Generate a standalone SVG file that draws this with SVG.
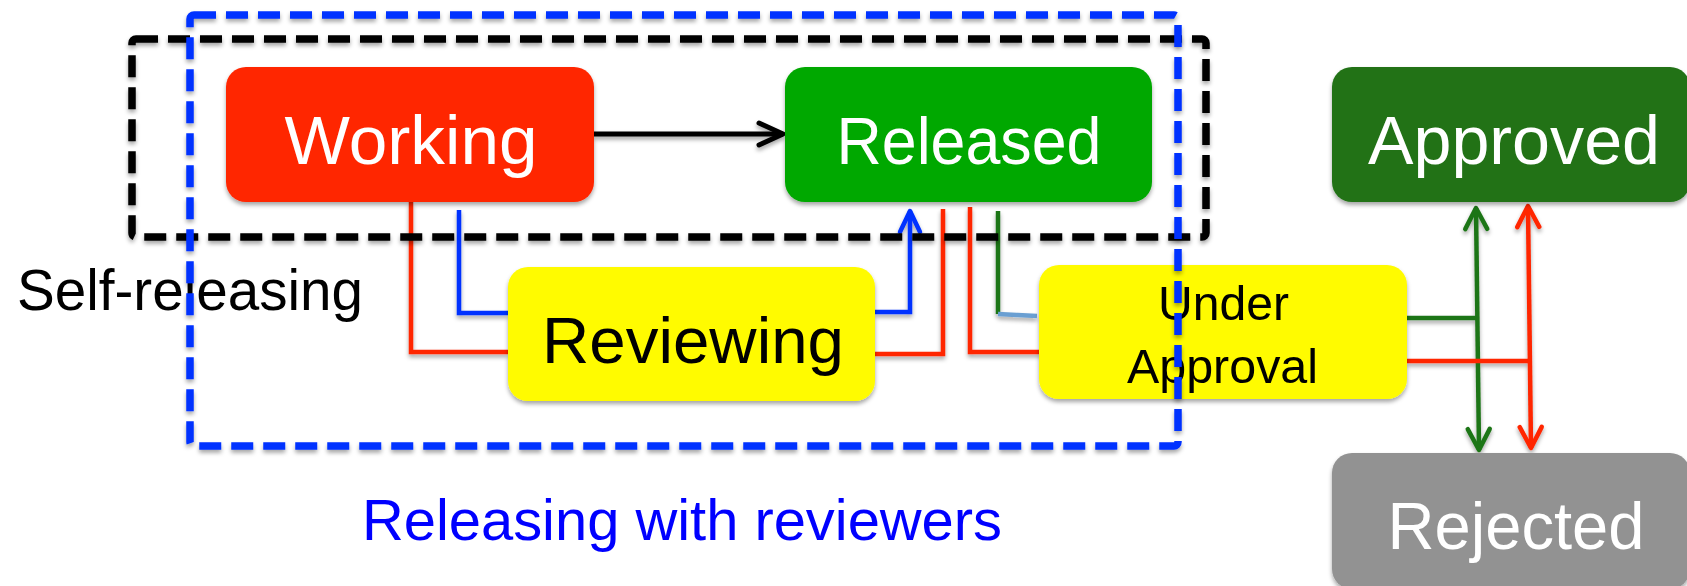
<svg xmlns="http://www.w3.org/2000/svg" width="1687" height="586" viewBox="0 0 1687 586">
<defs>
<style>
.box{filter:url(#sh)}
.lbl{font-family:"Liberation Sans",Arial,sans-serif}
.w{fill:#ffffff}
.k{fill:#000000}
.ln{fill:none;stroke-width:4.5;stroke-linejoin:miter}
.red{stroke:#ff2600}
.blue{stroke:#0433ff}
.grn{stroke:#1f7519}
.lb{stroke:#6a9fd2}
.blk{stroke:#000000;stroke-width:5}
.dash{fill:none;stroke-width:7.5;stroke-dasharray:22 10;filter:url(#sh)}
</style>
<filter id="sh" x="-5%" y="-10%" width="110%" height="130%">
<feDropShadow dx="0" dy="3" stdDeviation="2.2" flood-color="#000" flood-opacity="0.35"/>
</filter>
<marker id="aK" viewBox="-30 -15 34 30" refX="0" refY="0" markerWidth="34" markerHeight="30" markerUnits="userSpaceOnUse" orient="auto-start-reverse">
<path d="M-24,-11 L0,0 L-24,11" fill="none" stroke="#000" stroke-width="5" stroke-linecap="round" stroke-linejoin="round"/>
</marker>
<marker id="aB" viewBox="-30 -15 34 30" refX="0" refY="0" markerWidth="34" markerHeight="30" markerUnits="userSpaceOnUse" orient="auto-start-reverse">
<path d="M-21,-10 L0,0 L-21,10" fill="none" stroke="#0433ff" stroke-width="4.5" stroke-linecap="round" stroke-linejoin="round"/>
</marker>
<marker id="aG" viewBox="-30 -15 34 30" refX="0" refY="0" markerWidth="34" markerHeight="30" markerUnits="userSpaceOnUse" orient="auto-start-reverse">
<path d="M-21,-11 L0,0 L-21,11" fill="none" stroke="#1f7519" stroke-width="4.5" stroke-linecap="round" stroke-linejoin="round"/>
</marker>
<marker id="aR" viewBox="-30 -15 34 30" refX="0" refY="0" markerWidth="34" markerHeight="30" markerUnits="userSpaceOnUse" orient="auto-start-reverse">
<path d="M-21,-11 L0,0 L-21,11" fill="none" stroke="#ff2600" stroke-width="4.5" stroke-linecap="round" stroke-linejoin="round"/>
</marker>
</defs>
<rect width="1687" height="586" fill="#ffffff"/>

<g id="connectors" filter="url(#sh)">
<line class="ln blk" x1="594" y1="134" x2="783" y2="134" marker-end="url(#aK)"/>
<polyline class="ln red" points="411,202 411,352 508,352"/>
<polyline class="ln blue" points="459,210 459,313 508,313"/>
<polyline class="ln blue" points="875,312 910,312 910,211" marker-end="url(#aB)"/>
<polyline class="ln red" points="875,354 943,354 943,209"/>
<polyline class="ln red" points="970,207 970,352 1040,352"/>
<polyline class="ln grn" points="998,211 998,314"/>
<line class="ln lb" x1="998" y1="314" x2="1037" y2="316"/>
<line class="ln grn" x1="1407" y1="318" x2="1477" y2="318"/>
<line class="ln grn" x1="1476" y1="208" x2="1479" y2="450" marker-start="url(#aG)" marker-end="url(#aG)"/>
<line class="ln red" x1="1407" y1="361" x2="1530" y2="361"/>
<line class="ln red" x1="1528" y1="206" x2="1531" y2="448" marker-start="url(#aR)" marker-end="url(#aR)"/>
</g>

<g id="working">
<rect class="box" x="226" y="67" width="368" height="135" rx="20" fill="#ff2600"/>
<text class="lbl w" x="411" y="164" font-size="69" text-anchor="middle" textLength="253" lengthAdjust="spacingAndGlyphs">Working</text>
</g>
<g id="released">
<rect class="box" x="785" y="67" width="367" height="135" rx="20" fill="#00a800"/>
<text class="lbl w" x="969" y="164" font-size="66" text-anchor="middle" textLength="265" lengthAdjust="spacingAndGlyphs">Released</text>
</g>
<g id="approved">
<rect class="box" x="1332" y="67" width="358" height="135" rx="20" fill="#217219"/>
<text class="lbl w" x="1514" y="164" font-size="68" text-anchor="middle" textLength="292" lengthAdjust="spacingAndGlyphs">Approved</text>
</g>
<g id="rejected">
<rect class="box" x="1332" y="453" width="358" height="136" rx="20" fill="#929292"/>
<text class="lbl w" x="1516" y="549" font-size="66" text-anchor="middle" textLength="257" lengthAdjust="spacingAndGlyphs">Rejected</text>
</g>
<g id="reviewing">
<rect class="box" x="508" y="267" width="367" height="134" rx="20" fill="#fffb00"/>
<text class="lbl k" x="693" y="363" font-size="65" text-anchor="middle" textLength="302" lengthAdjust="spacingAndGlyphs">Reviewing</text>
</g>
<g id="under-approval">
<rect class="box" x="1039" y="265" width="368" height="134" rx="20" fill="#fffb00"/>
<text class="lbl k" x="1223.5" y="320" font-size="48" text-anchor="middle" textLength="131" lengthAdjust="spacingAndGlyphs">Under</text>
<text class="lbl k" x="1222.5" y="383" font-size="48" text-anchor="middle" textLength="191" lengthAdjust="spacingAndGlyphs">Approval</text>
</g>

<g id="self-releasing">
<rect class="dash" x="132" y="39" width="1074" height="198" rx="4" stroke="#000000" stroke-width="8"/>
<text class="lbl k" x="17" y="310" font-size="56.6" textLength="346" lengthAdjust="spacingAndGlyphs">Self-releasing</text>
</g>
<g id="releasing-with-reviewers">
<rect class="dash" x="190" y="15" width="988" height="431" rx="4" stroke="#0433ff"/>
<text class="lbl" x="362" y="540" font-size="57.9" fill="#0000ff" textLength="640" lengthAdjust="spacingAndGlyphs">Releasing with reviewers</text>
</g>
</svg>
